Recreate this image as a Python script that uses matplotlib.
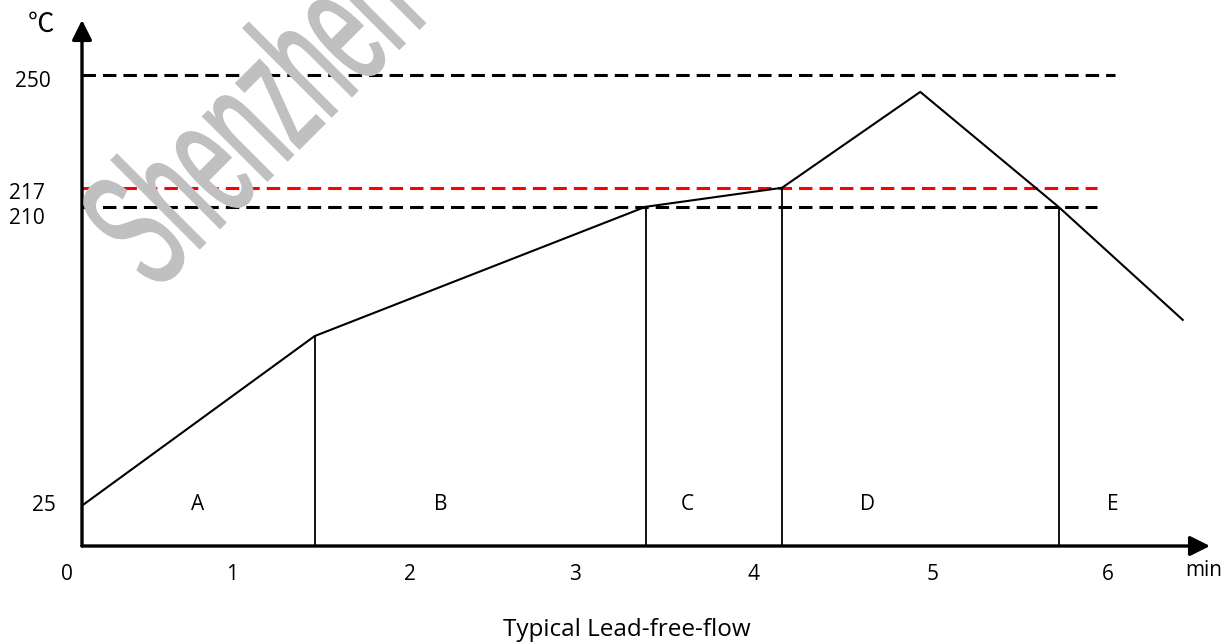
import numpy as np
import matplotlib.pyplot as plt
from matplotlib.textpath import TextPath
from matplotlib.patches import PathPatch
from matplotlib.font_manager import FontProperties
from matplotlib.transforms import Affine2D

plt.rcParams["font.family"] = ["Open Sans", "DejaVu Sans"]

# schematic lead-free reflow profile
profile_time = [0, 1.33, 3.22, 4.0, 4.79, 5.58, 6.29]   # min
profile_temp = [25, 130, 210, 217, 245, 210, 140]       # degC

# phase boundaries (indices into the profile)
zone_bounds = [1, 2, 3, 5]
zone_names = ["A", "B", "C", "D", "E"]
zone_label_time = [0.66, 2.05, 3.46, 4.49, 5.89]

ref_temps = [250, 217, 210]
ref_colors = ["black", "red", "black"]
ref_end_time = [5.90, 5.80, 5.80]

time_ticks = [0, 1, 2, 3, 4, 5, 6]
temp_ticks = [250, 217, 210, 25]

# the drawing is not to scale: piecewise temperature axis
y_anchor_temp = [0, 210, 217, 250, 300]
y_anchor_pos = [0, 339, 358, 471, 642]


def fwd(t):
    return np.interp(t, y_anchor_temp, y_anchor_pos)


def inv(p):
    return np.interp(p, y_anchor_pos, y_anchor_temp)


fig = plt.figure(figsize=(12.24, 6.43), dpi=100)
ax = fig.add_axes([82 / 1224, 97 / 643, 1128 / 1224, 526 / 643])
ax.set_yscale("function", functions=(fwd, inv))
ax.set_xlim(0, 1128 / 175)
ax.set_ylim(0, 266)
for s in ax.spines.values():
    s.set_visible(False)
ax.set_xticks([])
ax.set_yticks([])

# watermark
wm = TextPath((0, 0), "Shenzhen", size=172,
              prop=FontProperties(family="Liberation Sans"))
wm_tr = Affine2D().scale(0.5, 1.0).rotate_deg(45).translate(155, 350)
fig.add_artist(PathPatch(wm, transform=wm_tr, facecolor="#c0c0c0",
                         edgecolor="#c0c0c0", lw=1.5, zorder=0.5))

# reference temperature lines
for temp, col, tend in zip(ref_temps, ref_colors, ref_end_time):
    ax.plot([0, tend], [temp, temp], color=col, lw=2.2,
            dashes=(4.4, 2.3), zorder=2)

# profile
ax.plot(profile_time, profile_temp, color="black", lw=1.5, zorder=3)
ax.vlines([profile_time[i] for i in zone_bounds], 0,
          [profile_temp[i] for i in zone_bounds], color="black", lw=1.3, zorder=3)

for name, t in zip(zone_names, zone_label_time):
    ax.text(t, 26, name, ha="center", va="center", fontsize=15)

# axes with arrow heads
arrow = dict(arrowstyle="-|>,head_length=0.6,head_width=0.3", lw=2.4,
             color="black", mutation_scale=20, shrinkA=0, shrinkB=0)
ax.annotate("", xy=(1, 0), xytext=(0, 0), xycoords="axes fraction",
            arrowprops=arrow, zorder=4)
ax.annotate("", xy=(0, 1), xytext=(0, 0), xycoords="axes fraction",
            arrowprops=arrow, zorder=4)

# tick labels (hand placed in the original drawing)
time_dx = [-15, -25, -22, -32, -29, -24, -24]
for t, dx in zip(time_ticks, time_dx):
    ax.annotate(str(t), xy=(t, 0), xycoords="data", xytext=(dx, -29),
                textcoords="offset pixels", ha="center", va="center",
                fontsize=15, annotation_clip=False)

temp_offsets = {250: (-49, -7), 217: (-55, -6), 210: (-55, -12), 25: (-38, 0)}
for temp in temp_ticks:
    ax.annotate(str(temp), xy=(0, temp), xycoords="data",
                xytext=temp_offsets[temp], textcoords="offset pixels",
                ha="center", va="center", fontsize=15, annotation_clip=False)

fig.text(41 / 1224, 1 - 24 / 643, "℃", ha="center", va="center",
         fontsize=19, fontweight="light",
         family=["Noto Sans CJK SC", "DejaVu Sans"])
fig.text(1204 / 1224, 1 - 570 / 643, "min", ha="center", va="center",
         fontsize=15)
fig.text(627 / 1224, 1 - 630 / 643, "Typical Lead-free-flow", ha="center",
         va="center", fontsize=17.5)

fig.savefig("out.png", dpi=100)
